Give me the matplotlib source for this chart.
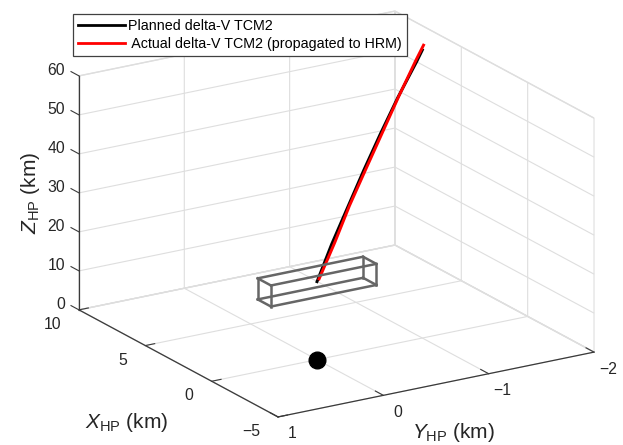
import numpy as np
import matplotlib
matplotlib.use('Agg')
import matplotlib.pyplot as plt
from matplotlib.lines import Line2D
from mpl_toolkits.mplot3d import proj3d
import itertools

plt.rcParams['font.family'] = ['Liberation Sans', 'DejaVu Sans']
plt.rcParams['mathtext.fontset'] = 'custom'
plt.rcParams['mathtext.rm'] = 'Liberation Sans'
plt.rcParams['mathtext.it'] = 'Liberation Sans:italic'

# ---------------- data ----------------
x_lim = [-5, 10]
y_lim = [-2, 1]
z_lim = [0, 60]
x_ticks = [-5, 0, 5, 10]
y_ticks = [-2, -1, 0, 1]
z_ticks = [0, 10, 20, 30, 40, 50, 60]

planned_x = [0.00, 1.12, 2.20, 3.22, 4.19, 5.11, 5.99, 6.27]
planned_y = [0.00, -0.28, -0.57, -0.85, -1.13, -1.41, -1.70, -1.79]
planned_z = [20.0, 26.0, 32.0, 38.0, 44.0, 50.0, 56.0, 58.0]

actual_x = [0.00, 1.04, 2.08, 3.07, 4.05, 5.03, 5.96, 6.34]
actual_y = [-0.02, -0.30, -0.57, -0.85, -1.13, -1.41, -1.69, -1.81]
actual_z = [20.6, 26.5, 32.5, 38.5, 44.5, 50.5, 56.5, 59.0]

box_x = [-0.5, 0.5]
box_y = [-0.5, 0.5]
box_z = [17.3, 22.7]

target_x = [0.0]
target_y = [0.0]
target_z = [0.0]

labels = ['Planned delta-V TCM2', ' Actual delta-V TCM2 (propagated to HRM)']

# ---------------- figure ----------------
W, H = 623, 445
fig = plt.figure(figsize=(W / 100, H / 100), dpi=100)
side = 420
ax = fig.add_axes([0.1, 0.0, side / W, side / H], projection='3d', proj_type='ortho')
ax.set_xlim(x_lim)
ax.set_ylim(y_lim)
ax.set_zlim(z_lim)
ax.set_box_aspect((1.02, 1.0, 0.668))
ax.view_init(elev=19.4, azim=148.3)

ax.set_xticks(x_ticks)
ax.set_yticks(y_ticks)
ax.set_zticks(z_ticks)
ax.set_xticklabels([])
ax.set_yticklabels([])
ax.set_zticklabels([])
ax.zaxis.set_ticks_position('upper')
# z ticks point along the x direction, as in the reference
ax.zaxis._get_tickdir = lambda position: 0

grid_col = '#dedede'
axis_col = '#3a3a3a'
for axis, ofac in ((ax.xaxis, 0.37), (ax.yaxis, 0.5), (ax.zaxis, 0.5)):
    axis.set_pane_color((1, 1, 1, 1))
    axis.pane.set_edgecolor(grid_col)
    axis._axinfo['grid']['color'] = grid_col
    axis._axinfo['grid']['linewidth'] = 0.8
    axis._axinfo['tick']['inward_factor'] = 0.0
    axis._axinfo['tick']['outward_factor'] = ofac
    axis.line.set_color(axis_col)
    axis.line.set_linewidth(0.9)
ax.tick_params(axis='both', colors=axis_col, width=0.8)
ax.tick_params(axis='z', colors=axis_col, width=0.8)

# trajectories
ax.plot(planned_x, planned_y, planned_z, color='black', lw=2.1)
ax.plot(actual_x, actual_y, actual_z, color='#ff0000', lw=2.1)

# tolerance box
corners = list(itertools.product(box_x, box_y, box_z))
for a, b in itertools.combinations(corners, 2):
    if sum(p != q for p, q in zip(a, b)) == 1:
        ax.plot([a[0], b[0]], [a[1], b[1]], [a[2], b[2]], color='#666666', lw=1.8)

# target point
ax.plot(target_x, target_y, target_z, 'o', color='black', ms=12)


def to_px(p):
    X2, Y2, _z = proj3d.proj_transform(*p, ax.M)
    return ax.transData.transform((X2, Y2))


# ---------------- fit axes placement to reference geometry ----------------
fit_pts = [(10, 1, 0), (-5, 1, 0), (-5, -2, 0), (10, 1, 60), (-5, -2, 60), (10, -2, 60)]
fit_tgt = np.array([(79, 310), (278, 417), (594, 352), (79, 76), (594, 118), (395, 11)], float)
fit_tgt[:, 1] = H - fit_tgt[:, 1]

for _ in range(3):
    fig.canvas.draw()
    pos = ax.get_position()
    ox, oy, S = pos.x0 * W, pos.y0 * H, pos.width * W
    pts = np.array([to_px(p) for p in fit_pts])
    f = np.column_stack([(pts[:, 0] - ox) / S, (pts[:, 1] - oy) / S])
    A = []
    b = []
    for (fx, fy), (tx, ty) in zip(f, fit_tgt):
        A.append([1, 0, fx]); b.append(tx)
        A.append([0, 1, fy]); b.append(ty)
    sol, *_r = np.linalg.lstsq(np.array(A), np.array(b), rcond=None)
    nox, noy, nS = sol
    ax.set_position([nox / W, noy / H, nS / W, nS / H])

fig.canvas.draw()

# ---------------- tick labels (placed at projected tick positions) ----------------
tick_fs = 11.3
tcol = '#262626'


def fmt(v):
    return str(v).replace('-', '\u2212')


for xt in x_ticks:
    px, py = to_px((xt, y_lim[1], z_lim[0]))
    fig.text((px - 18) / W, (py - 14.5) / H, fmt(xt), ha='right', va='center',
             fontsize=tick_fs, color=tcol)
for yt in y_ticks:
    px, py = to_px((x_lim[0], yt, z_lim[0]))
    fig.text((px + 14) / W, (py - 17) / H, fmt(yt), ha='center', va='center',
             fontsize=tick_fs, color=tcol)
for zt in z_ticks:
    px, py = to_px((x_lim[1], y_lim[1], zt))
    fig.text((px - 14) / W, (py + 5) / H, fmt(zt), ha='right', va='center',
             fontsize=tick_fs, color=tcol)

# ---------------- axis labels ----------------
fs_lab = 15
fig.text(30 / W, 1 - 193 / H, r'$Z_{\mathrm{HP}}$ (km)', rotation=90, ha='center', va='center',
         fontsize=fs_lab, color=tcol)
fig.text(127 / W, 1 - 423 / H, r'$X_{\mathrm{HP}}$ (km)', ha='center', va='center',
         fontsize=fs_lab, color=tcol)
fig.text(453 / W, 1 - 433 / H, r'$Y_{\mathrm{HP}}$ (km)', ha='center', va='center',
         fontsize=fs_lab, color=tcol)

handles = [Line2D([], [], color='black', lw=2.0), Line2D([], [], color='#ff0000', lw=2.0)]
leg = fig.legend(handles, labels, loc='upper left', bbox_to_anchor=(73 / W, 1 - 14 / H),
                 frameon=True, fancybox=False, edgecolor='#404040', fontsize=10.3,
                 handlelength=3.3, handletextpad=0.2, borderpad=0.35, labelspacing=0.3,
                 borderaxespad=0.0)
leg.get_frame().set_linewidth(0.9)
leg.get_frame().set_facecolor('white')
leg.get_frame().set_alpha(1.0)

fig.savefig('out.png', dpi=100)
